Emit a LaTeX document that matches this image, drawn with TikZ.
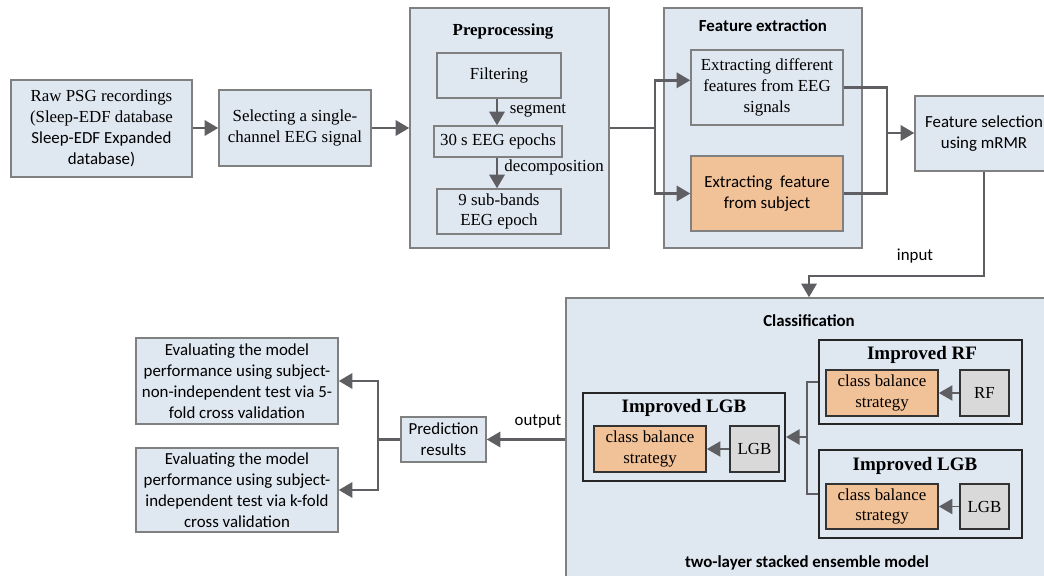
\documentclass[tikz,border=0pt]{standalone}
\usepackage{fontspec}
\setmainfont{Liberation Serif}
\newfontfamily\calfont{Carlito}
\usetikzlibrary{calc,arrows.meta}
\definecolor{boxblue}{RGB}{223,231,241}
\definecolor{boxorange}{RGB}{241,193,151}
\definecolor{boxgray}{RGB}{217,217,217}
\definecolor{linegray}{RGB}{95,95,99}
\definecolor{bordergray}{RGB}{128,128,128}
\tikzset{pbox/.style={
  draw=bordergray,
  fill=boxblue,
  line width=1pt,
  inner sep=0pt,
  align=center,
  font=\fontsize{12}{14.8}\selectfont}}
\tikzset{obox/.style={
  pbox,
  fill=boxorange}}
\tikzset{mbox/.style={
  draw=black!85,
  line width=1.4pt,
  inner sep=0pt}}
\tikzset{gbox/.style={
  pbox,
  draw=black!80,
  line width=1.2pt,
  fill=boxgray}}
\tikzset{flow/.style={
  draw=linegray,
  line width=1.8pt,
  -{Triangle[length=0.34cm,width=0.38cm]}}}

\begin{document}
\begin{tikzpicture}[
  x=0.025cm,y=-0.025cm,
  title/.style={font=\fontsize{12}{14}\selectfont\bfseries},
  ctitle/.style={font=\fontsize{12}{14}\selectfont\calfont\bfseries},
  mtitle/.style={font=\fontsize{13.5}{16}\selectfont\bfseries},
  lbl/.style={font=\fontsize{12}{14}\selectfont},
  thin flow/.style={flow,line width=1.4pt}
]
  \useasboundingbox (0,0) rectangle (1044,576);

  %%%% Containers %%%%
  \node[pbox,minimum width=4.975cm,minimum height=6cm] (pre) at (509.5,128) {};
  \node[pbox,minimum width=4.95cm,minimum height=6cm] (feat) at (763,128) {};
  \node[pbox,minimum width=12.15cm,minimum height=7.3cm] (class) at (809,444) {};
  \node[title] (pretitle) at (503,32) {Preprocessing};
  \node[ctitle] (feattitle) at (763,26) {Feature extraction};
  \node[ctitle] (classtitle) at (809,321) {Classification};
  \node[ctitle] (stacktitle) at (807,563) {two-layer stacked ensemble model};

  %%%% Top row %%%%
  \node[pbox,minimum width=4.525cm,minimum height=2.425cm] (raw) at (101.5,128.5)
    {Raw PSG recordings\\(Sleep-EDF database\\{\calfont Sleep-EDF Expanded}\\{\calfont database)}};
  \node[pbox,minimum width=3.8cm,minimum height=1.9cm] (sel) at (295,128)
    {Selecting a single-\\channel EEG signal};
  \node[pbox,minimum width=3.1cm,minimum height=1.125cm] (filter) at (499,75.5) {Filtering};
  \node[pbox,minimum width=3.2cm,minimum height=0.775cm] (epochs) at (498,141.5) {30 s EEG epochs};
  \node[pbox,minimum width=3.1cm,minimum height=1.125cm] (sub) at (499,211.5)
    {9 sub-bands\\EEG epoch};
  \node[lbl] (segtext) at (538,111) {segment};
  \node[lbl] (dectext) at (554,167) {decomposition};
  \node[pbox,minimum width=3.8cm,minimum height=1.875cm] (diff) at (767,87.5)
    {Extracting different\\features from EEG\\signals};
  \node[obox,minimum width=3.8cm,minimum height=1.875cm] (subj) at (767,193.5)
    {\calfont Extracting\ \ feature\\\calfont from subject};
  \node[pbox,minimum width=3.45cm,minimum height=1.875cm] (mrmr) at (984,133.5)
    {\calfont Feature selection\\\calfont using mRMR};

  %% Set coordinates for the bends
  \coordinate (split) at (655,128);
  \coordinate (join) at (887,133);
  \coordinate (bend) at (984,276);

  \draw[flow] (raw.east |- sel) -- (sel);
  \draw[flow] (sel.east) -- (sel.east -| pre.west);
  \draw[flow] ([xshift=-0.05cm]filter.south) -- ([xshift=-0.05cm]filter.south |- epochs.north);
  \draw[flow] ([xshift=-0.05cm]sub.north |- epochs.south) -- ([xshift=-0.05cm]sub.north);
  \draw[flow] (pre.east |- split) -- (split) |- ([yshift=0.18cm]diff.west);
  \draw[flow] (split) |- (subj.west);
  \draw[draw=linegray,line width=1.8pt] (diff.east) -| (join) |- (subj.east);
  \draw[flow] (join) -- (join -| mrmr.west);
  \draw[flow] (mrmr.south -| bend) -- (bend) -| (class.north);
  \node[lbl,font=\fontsize{12}{14}\selectfont\calfont] (inputtext) at (915,256) {input};

  %%%% Classification %%%%
  \node[mbox,minimum width=5.075cm,minimum height=2.1cm] (irf) at (920.5,382) {};
  \node[mbox,minimum width=5.075cm,minimum height=2.2cm] (ilgbb) at (920.5,494) {};
  \node[mbox,minimum width=5.05cm,minimum height=2.2cm] (ilgba) at (684,437) {};
  \node[mtitle] (irftitle) at (922,355) {Improved RF};
  \node[mtitle] (ilgbbtitle) at (915,466) {Improved LGB};
  \node[mtitle] (ilgbatitle) at (684,408) {Improved LGB};

  \node[obox,draw=black!80,line width=1.2pt,minimum width=2.8cm,minimum height=1.15cm] (cbsa) at (882,393)
    {class balance\\strategy};
  \node[gbox,minimum width=1.225cm,minimum height=1.15cm] (rf) at (984.5,393) {RF};
  \node[obox,draw=black!80,line width=1.2pt,minimum width=2.8cm,minimum height=1.125cm] (cbsb) at (882,506.5)
    {class balance\\strategy};
  \node[gbox,minimum width=1.225cm,minimum height=1.125cm] (lgbb) at (984.5,506.5) {LGB};
  \node[obox,draw=black!80,line width=1.2pt,minimum width=2.8cm,minimum height=1.15cm] (cbsc) at (650,449)
    {class balance\\strategy};
  \node[gbox,minimum width=1.225cm,minimum height=1.15cm] (lgba) at (754.5,449) {LGB};

  \coordinate (merge) at (807,437);
  \draw[thin flow] (rf) -- (cbsa);
  \draw[thin flow] (lgbb) -- (cbsb);
  \draw[thin flow] (lgba) -- (cbsc);
  \draw[draw=linegray,line width=1.4pt] (irf.west) -| (merge) |- (ilgbb.west);
  \draw[thin flow] (merge) -- (ilgba.east);

  %%%% Output %%%%
  \node[pbox,minimum width=2.125cm,minimum height=1.125cm,font=\fontsize{12}{14.8}\selectfont\calfont] (pred) at (443.5,439.5)
    {Prediction\\results};
  \node[pbox,minimum width=5.05cm,minimum height=2.15cm,font=\fontsize{12}{14.8}\selectfont\calfont] (evala) at (237,381)
    {Evaluating the model\\performance using subject-\\non-independent test via 5-\\fold cross validation};
  \node[pbox,minimum width=5.05cm,minimum height=2.1cm,font=\fontsize{12}{14.8}\selectfont\calfont] (evalb) at (237,490)
    {Evaluating the model\\performance using subject-\\independent test via k-fold\\cross validation};
  \coordinate (fork) at (378,439.5);

  \draw[flow] (class.west |- pred) -- (pred);
  \node[lbl,font=\fontsize{12}{14}\selectfont\calfont] (outputtext) at (538,422) {output};
  \draw[flow] (pred.west) -- (fork) |- (evala.east);
  \draw[flow] (fork) |- (evalb.east);

\end{tikzpicture}
\end{document}
